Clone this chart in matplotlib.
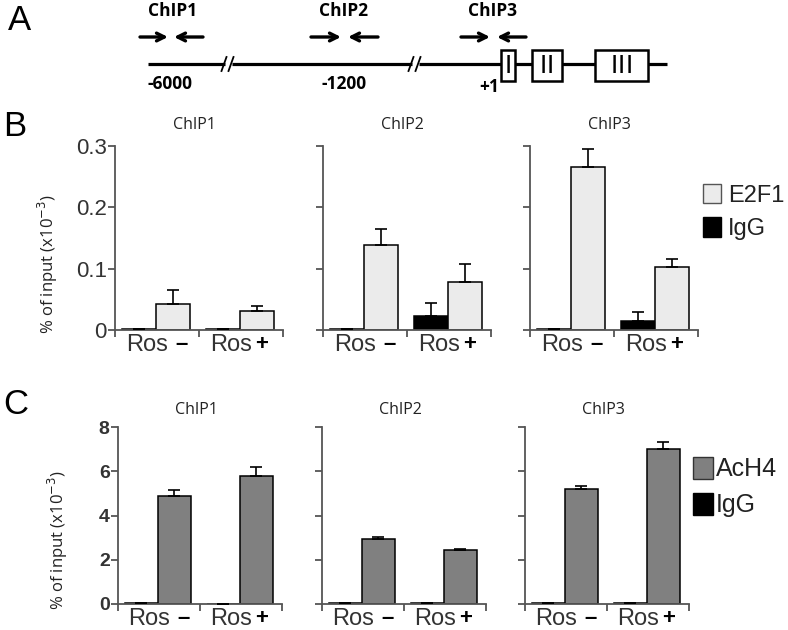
import matplotlib
matplotlib.use('Agg')
import matplotlib.pyplot as plt
from matplotlib.patches import Rectangle, Patch
import numpy as np

plt.rcParams['font.family'] = ['Liberation Sans', 'DejaVu Sans']

# ---- data ----
groups = ['Ros', 'Ros']
signs = ['\u2013', '+']
sites = ['ChIP1', 'ChIP2', 'ChIP3']

# panel B: E2F1 / IgG  (% of input x10^-3)
e2f1 = [[0.043, 0.031], [0.139, 0.079], [0.266, 0.102]]
e2f1_err = [[0.023, 0.008], [0.025, 0.029], [0.029, 0.014]]
igg_b = [[0.002, 0.002], [0.001, 0.023], [0.002, 0.015]]
igg_b_err = [[0.0, 0.0], [0.001, 0.021], [0.0, 0.015]]
b_ticks = [0, 0.1, 0.2, 0.3]
b_ticklabels = ['0', '0.1', '0.2', '0.3']

# panel C: AcH4 / IgG
ach4 = [[4.88, 5.78], [2.95, 2.42], [5.22, 7.0]]
ach4_err = [[0.27, 0.4], [0.06, 0.05], [0.12, 0.34]]
igg_c = [[0.03, 0.01], [0.03, 0.03], [0.03, 0.03]]
igg_c_err = [[0.03, 0.0], [0.03, 0.03], [0.0, 0.0]]
c_ticks = [0, 2, 4, 6, 8]
c_ticklabels = ['0', '2', '4', '6', '8']

W, H = 788, 630
fig = plt.figure(figsize=(W / 100, H / 100), dpi=100)


def px_axes(x0, x1, ytop, ybot):
    return fig.add_axes([x0 / W, 1 - ybot / H, (x1 - x0) / W, (ybot - ytop) / H])


def bar_panel(ax, ctrl, ctrl_err, sig, sig_err, sig_color, ymax, ticks, ticklabels, show_labels, tick_kw):
    # 2 bars per group, bar width 1, groups of width 2.47
    gw = 2.47
    x_ctrl = np.array([0.7, 0.7 + gw])
    x_sig = x_ctrl + 1
    ax.bar(x_ctrl, ctrl, width=1, color='black', edgecolor='black', lw=1.1, zorder=2)
    ax.bar(x_sig, sig, width=1, color=sig_color, edgecolor='black', lw=1.1, zorder=2)
    ax.errorbar(x_ctrl, ctrl, yerr=[np.zeros(2), ctrl_err], fmt='none', ecolor='black',
                elinewidth=1.2, capsize=4, capthick=1.2, zorder=3)
    ax.errorbar(x_sig, sig, yerr=[np.zeros(2), sig_err], fmt='none', ecolor='black',
                elinewidth=1.2, capsize=4, capthick=1.2, zorder=3)
    ax.set_xlim(0, 2 * gw)
    ax.set_ylim(0, ymax)
    for s in ['top', 'right']:
        ax.spines[s].set_visible(False)
    for s in ['left', 'bottom']:
        ax.spines[s].set_color('#555555')
        ax.spines[s].set_linewidth(1.3)
    ax.set_xticks([0, gw, 2 * gw])
    ax.set_xticklabels([])
    ax.set_yticks(ticks)
    if show_labels:
        ax.set_yticklabels(ticklabels, **tick_kw)
    else:
        ax.set_yticklabels([])
    ax.tick_params(direction='out', length=5, width=1.3, color='#555555', pad=1)
    for i in range(2):
        gc = gw * (i + 0.5)
        ax.annotate(groups[i], xy=(gc, 0), xycoords=('data', 'axes fraction'),
                    xytext=(-7.5, -10.5), textcoords='offset points', ha='center', va='center',
                    fontsize=17, color='#333333')
        dx = 17.5 if i == 0 else 15
        ax.annotate(signs[i], xy=(gc, 0), xycoords=('data', 'axes fraction'),
                    xytext=(dx, -10.5), textcoords='offset points', ha='center', va='center',
                    fontsize=16, fontweight='bold', color='black')


# ---- panel A: schematic ----
axA = fig.add_axes([0, 1 - 110 / H, 1, 110 / H])
axA.set_xlim(0, W)
axA.set_ylim(110, 0)
axA.axis('off')
line_y = 64
for xa, xb in [(148, 225), (232, 412), (419, 667)]:
    axA.plot([xa, xb], [line_y, line_y], color='black', lw=2.3, solid_capstyle='butt')
for xc in [224, 231, 411, 418]:
    axA.plot([xc - 2.5, xc + 2.5], [line_y + 7, line_y - 7], color='black', lw=1.3)
exons = [('I', 501, 515), ('II', 532, 562), ('III', 595, 648)]
for lab, xa, xb in exons:
    axA.add_patch(Rectangle((xa, 50), xb - xa, 31, facecolor='white', edgecolor='black', lw=1.8, zorder=3))
    n = len(lab)
    for j in range(n):
        xm = (xa + xb) / 2 + (j - (n - 1) / 2) * 7.5
        axA.text(xm, 66, lab[j], ha='center', va='center', fontsize=19, zorder=4)
primers = [('ChIP1', 173, 140, 168, 203, 174), ('ChIP2', 344, 311, 341, 378, 348),
           ('ChIP3', 493, 461, 490, 526, 497)]
for lab, xc, r0, r1, l0, l1 in primers:
    axA.text(xc, 11, lab, ha='center', va='center', fontsize=12.5, fontweight='bold', family='Open Sans')
    axA.annotate('', xy=(r1, 37), xytext=(r0, 37),
                 arrowprops=dict(arrowstyle='->', lw=2.4, mutation_scale=14, color='black', shrinkA=0, shrinkB=0))
    axA.annotate('', xy=(l1, 37), xytext=(l0, 37),
                 arrowprops=dict(arrowstyle='->', lw=2.4, mutation_scale=14, color='black', shrinkA=0, shrinkB=0))
for lab, xc, yc in [('-6000', 170, 84), ('-1200', 344, 84), ('+1', 489, 87)]:
    axA.text(xc, yc, lab, ha='center', va='center', fontsize=12.5, fontweight='bold', family='Open Sans')

# ---- panel B ----
b_left = [115, 323, 530]
for k in range(3):
    ax = px_axes(b_left[k], b_left[k] + 168, 146, 330)
    bar_panel(ax, igg_b[k], igg_b_err[k], e2f1[k], e2f1_err[k], '#ebebeb', 0.3,
              b_ticks, b_ticklabels, k == 0, dict(fontsize=16, color='#333333'))
    fig.text((b_left[k] + 79) / W, 1 - 125 / H, sites[k], ha='center', va='center',
             fontsize=11.5, family='Open Sans', color='#222222')
    if k == 0:
        ax.set_ylabel('% of input (x10$^{-3}$)', fontsize=12, family='Open Sans', color='#222222', va='center')
        ax.yaxis.set_label_coords((48 - 115) / 168, 0.36)

fig.legend(handles=[Patch(facecolor='#ebebeb', edgecolor='#555555', lw=1),
                    Patch(facecolor='black', edgecolor='black')],
           labels=['E2F1', 'IgG'], loc='center left', bbox_to_anchor=(703 / W, 1 - 212 / H),
           frameon=False, handlelength=0.75, handleheight=0.9, handletextpad=0.3,
           labelspacing=0.45, fontsize=17, labelcolor='#222222', borderpad=0, borderaxespad=0)

# ---- panel C ----
c_left = [118, 322, 525]
for k in range(3):
    ax = px_axes(c_left[k], c_left[k] + 164, 427, 604)
    bar_panel(ax, igg_c[k], igg_c_err[k], ach4[k], ach4_err[k], '#808080', 8,
              c_ticks, c_ticklabels, k == 0, dict(fontsize=14, fontweight='bold', color='#333333'))
    fig.text((c_left[k] + 78) / W, 1 - 410 / H, sites[k], ha='center', va='center',
             fontsize=11.5, family='Open Sans', color='#222222')
    if k == 0:
        ax.set_ylabel('% of input (x10$^{-3}$)', fontsize=12, family='Open Sans', color='#222222', va='center')
        ax.yaxis.set_label_coords((58 - 118) / 164, 0.36)

fig.legend(handles=[Patch(facecolor='#808080', edgecolor='#333333', lw=1),
                    Patch(facecolor='black', edgecolor='black')],
           labels=['AcH4', 'IgG'], loc='center left', bbox_to_anchor=(693 / W, 1 - 487 / H),
           frameon=False, handlelength=0.8, handleheight=1.0, handletextpad=0.1,
           labelspacing=0.45, fontsize=18, labelcolor='#222222', borderpad=0, borderaxespad=0)

# panel letters
for lab, xc, yc in [('A', 19, 20), ('B', 15, 126), ('C', 16, 405)]:
    fig.text(xc / W, 1 - yc / H, lab, ha='center', va='center', fontsize=25)

fig.savefig('out.png', dpi=100)
